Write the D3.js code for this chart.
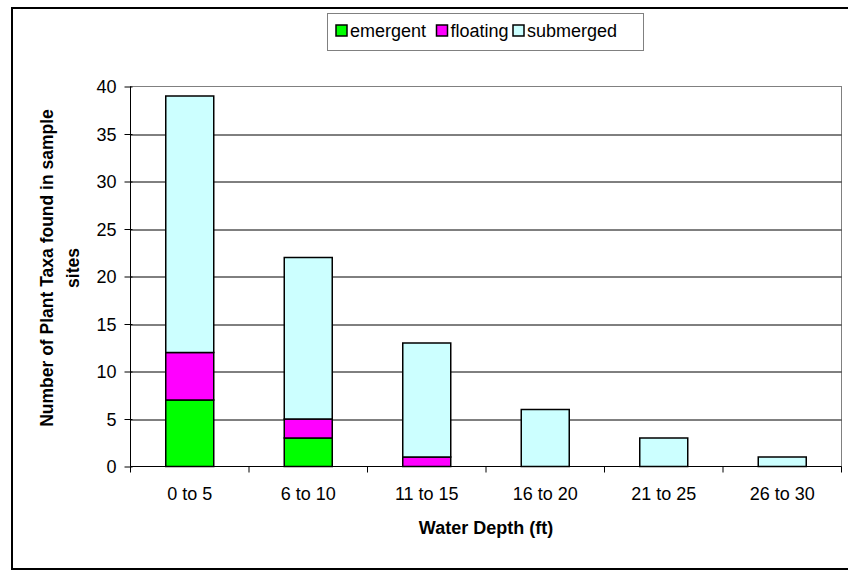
<!DOCTYPE html>
<html>
<head>
<meta charset="utf-8">
<script src="https://cdn.jsdelivr.net/npm/d3@7"></script>
<style>
  body { margin: 0; background: #fff; }
  svg { display: block; }
  svg text { font-family: "Liberation Sans", Arial, sans-serif; fill: #000; }
</style>
</head>
<body>
<div id="chart"></div>
<script>
const categories = ["0 to 5", "6 to 10", "11 to 15", "16 to 20", "21 to 25", "26 to 30"];
const emergent = [7, 3, 0, 0, 0, 0];
const floating = [5, 2, 1, 0, 0, 0];
const submerged = [27, 17, 12, 6, 3, 1];
const seriesNames = ["emergent", "floating", "submerged"];
const yTicks = [0, 5, 10, 15, 20, 25, 30, 35, 40];

const W = 848, H = 577;
const margin = { top: 86.5, right: 6.5, bottom: 110.5, left: 130.5 };
const width = W - margin.left - margin.right,
  height = H - margin.top - margin.bottom;

const svgRoot = d3.select("#chart").append("svg")
  .attr("width", W)
  .attr("height", H);

// outer chart border
svgRoot.append("rect")
  .attr("x", 12).attr("y", 8)
  .attr("width", 850).attr("height", 561)
  .attr("fill", "none")
  .attr("stroke", "#000")
  .attr("stroke-width", 2);

const svg = svgRoot.append("g")
  .attr("transform", `translate(${margin.left},${margin.top})`);

const table = categories.map((c, i) => ({
  cat: c, emergent: emergent[i], floating: floating[i], submerged: submerged[i]
}));
const stacked = d3.stack().keys(seriesNames)(table);

const x = d3.scaleBand().domain(categories).range([0, width]).paddingInner(0.595).paddingOuter(0.2975);
const xOuter = d3.scaleBand().domain(categories).range([0, width]);
const y = d3.scaleLinear().domain([0, 40]).range([height, 0]);

const color = d3.scaleOrdinal()
  .domain(seriesNames)
  .range(["#00ff00", "#ff00ff", "#ccffff"]);

// plot area border
svg.append("rect")
  .attr("width", width).attr("height", height)
  .attr("fill", "none")
  .attr("stroke", "#808080")
  .attr("stroke-width", 1);

// gridlines
svg.append("g")
  .selectAll("line")
  .data(yTicks.filter(d => d > 0 && d < 40))
  .join("line")
  .attr("x1", 0).attr("x2", width)
  .attr("y1", d => Math.round(y(d)) + 0.5)
  .attr("y2", d => Math.round(y(d)) + 0.5)
  .attr("stroke", "#000")
  .attr("stroke-width", 1);

// bars
svg.selectAll(".layer")
  .data(stacked)
  .join("g")
  .attr("class", "layer")
  .attr("fill", d => color(d.key))
  .selectAll("rect")
  .data(d => d.filter(s => s[1] - s[0] > 0))
  .join("rect")
  .attr("x", d => x(d.data.cat))
  .attr("y", d => y(d[1]))
  .attr("width", x.bandwidth())
  .attr("height", d => y(d[0]) - y(d[1]))
  .attr("stroke", "#000")
  .attr("stroke-width", 1.5);

// y axis
const yAxis = svg.append("g")
  .call(d3.axisLeft(y).tickValues(yTicks).tickSize(6).tickPadding(8));
yAxis.attr("font-family", null).attr("font-size", null);
yAxis.select(".domain").attr("stroke", "#000").attr("d", `M0,0V${height}`);
yAxis.selectAll(".tick line").attr("x2", -6).attr("x1", 2).attr("stroke", "#000");
yAxis.selectAll("text").style("font-size", "18px").attr("dy", "0.36em");

// x axis
const xAxis = svg.append("g")
  .attr("transform", `translate(0,${height})`);
xAxis.append("line")
  .attr("x1", 0).attr("x2", width)
  .attr("stroke", "#000");
xAxis.selectAll(".xt")
  .data(d3.range(categories.length + 1))
  .join("line")
  .attr("class", "xt")
  .attr("x1", i => i * xOuter.step()).attr("x2", i => i * xOuter.step())
  .attr("y1", 0).attr("y2", 6)
  .attr("stroke", "#000");
xAxis.selectAll(".xl")
  .data(categories)
  .join("text")
  .attr("class", "xl")
  .attr("x", d => xOuter(d) + xOuter.bandwidth() / 2)
  .attr("y", 33)
  .attr("text-anchor", "middle")
  .style("font-size", "18px")
  .text(d => d);

// axis titles
svg.append("text")
  .attr("x", width / 2)
  .attr("y", height + 67)
  .attr("text-anchor", "middle")
  .style("font-size", "18px")
  .style("font-weight", "bold")
  .text("Water Depth (ft)");

const yTitle = svg.append("text")
  .attr("transform", `translate(-77.5,${height / 2 - 8.5}) rotate(-90)`)
  .attr("text-anchor", "middle")
  .style("font-size", "17.5px")
  .style("font-weight", "bold");
yTitle.append("tspan").attr("x", 0).attr("y", 0).text("Number of Plant Taxa found in sample");
yTitle.append("tspan").attr("x", 0).attr("y", 26).text("sites");

// legend
const legend = svgRoot.append("g").attr("transform", "translate(327.5,13.5)");
legend.append("rect")
  .attr("width", 316).attr("height", 37)
  .attr("fill", "#fff")
  .attr("stroke", "#808080");
const legendX = [8.5, 109, 185.5];
seriesNames.forEach((key, i) => {
  const g = legend.append("g").attr("transform", `translate(${legendX[i]},11.5)`);
  g.append("rect")
    .attr("width", 11).attr("height", 11)
    .attr("fill", color(key))
    .attr("stroke", "#000")
    .attr("stroke-width", 1.5);
  g.append("text")
    .attr("x", 14)
    .attr("y", 11.5)
    .style("font-size", "18px")
    .text(key);
});
</script>
</body>
</html>
